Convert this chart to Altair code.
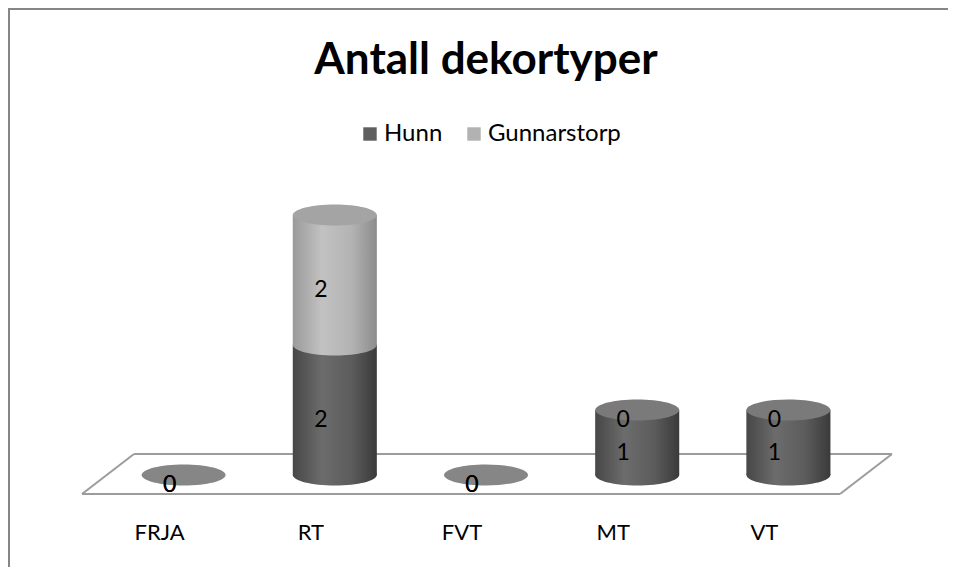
import altair as alt
import pandas as pd

categories = ["FRJA", "RT", "FVT", "MT", "VT"]
hunn = [0, 2, 0, 1, 1]
gunnarstorp = [0, 2, 0, 0, 0]
series = ["Hunn", "Gunnarstorp"]
series_colors = ["#5f5f5f", "#b2b2b2"]

df = pd.DataFrame({"cat": categories, "Hunn": hunn, "Gunnarstorp": gunnarstorp})
df["total"] = df["Hunn"] + df["Gunnarstorp"]
df["hmid"] = df["Hunn"] / 2
df["gmid"] = df["Hunn"] + df["Gunnarstorp"] / 2

FONT = "Lato"
ELLIPSE = "M-1,0A1,0.25,0,1,1,1,0A1,0.25,0,1,1,-1,0Z"
BARW = 84


def grad(stops):
    return alt.Gradient(
        gradient="linear", x1=0, x2=1, y1=0, y2=0,
        stops=[alt.GradientStop(offset=o, color=c) for o, c in stops],
    )


dark = grad([(0, "#474747"), (0.35, "#6c6c6c"), (0.7, "#5c5c5c"), (1, "#3a3a3a")])
light = grad([(0, "#9a9a9a"), (0.35, "#c2c2c2"), (0.7, "#b3b3b3"), (1, "#8c8c8c")])

xenc = alt.X(
    "cat:N", sort=categories, title=None,
    scale=alt.Scale(paddingInner=0.444, paddingOuter=0.222),
    axis=alt.Axis(labelAngle=0, domain=False, ticks=False, grid=False,
                  labelFont=FONT, labelFontSize=22, labelColor="#000000",
                  labelPadding=47, labelOffset=-24),
)
yscale = alt.Scale(domain=[0, 5], nice=False, zero=True)

base = alt.Chart(df)
one = pd.DataFrame({"k": [0]})


def rule(x1, y1, x2, y2, color, width):
    return alt.Chart(one).mark_rule(color=color, strokeWidth=width).encode(
        x=alt.value(x1), y=alt.value(y1), x2=alt.value(x2), y2=alt.value(y2)
    )


floor_c = "#9c9c9c"
floor = [
    rule(-26, 344, 732, 344, floor_c, 2),
    rule(26, 304, 784, 304, floor_c, 2),
    rule(-26, 344, 26, 304, floor_c, 2),
    rule(732, 344, 784, 304, floor_c, 2),
]
border_c = "#868686"
border = [
    rule(-100, -141, 900, -141, border_c, 2),
    rule(-99, -142, -99, 430, border_c, 2),
]


def ellipse(fill):
    return dict(shape=ELLIPSE, filled=True, size=BARW * BARW, fill=fill,
                opacity=1, strokeWidth=0)


hunn_bottom = base.transform_filter("datum.Hunn > 0").transform_calculate(z0="0").mark_point(
    **ellipse(dark)).encode(x=xenc, y=alt.Y("z0:Q", scale=yscale, axis=None))
hunn_bar = base.transform_filter("datum.Hunn > 0").transform_calculate(z0="0").mark_bar(
    fill=dark, opacity=1).encode(x=xenc, y=alt.Y("z0:Q", scale=yscale, axis=None), y2="Hunn:Q")
g_bottom = base.transform_filter("datum.Gunnarstorp > 0").mark_point(**ellipse(light)).encode(
    x=xenc, y=alt.Y("Hunn:Q", scale=yscale, axis=None)
)
g_bar = base.transform_filter("datum.Gunnarstorp > 0").mark_bar(fill=light, opacity=1).encode(
    x=xenc, y=alt.Y("Hunn:Q", scale=yscale, axis=None), y2="total:Q"
)
cap_zero = base.transform_filter("datum.total == 0").mark_point(**ellipse("#868686")).encode(
    x=xenc, y=alt.Y("total:Q", scale=yscale, axis=None)
)
cap_dark = base.transform_filter("datum.total > 0 && datum.Gunnarstorp == 0").mark_point(
    **ellipse("#7a7a7a")).encode(x=xenc, y=alt.Y("total:Q", scale=yscale, axis=None))
cap_light = base.transform_filter("datum.Gunnarstorp > 0").mark_point(
    **ellipse("#a4a4a4")).encode(x=xenc, y=alt.Y("total:Q", scale=yscale, axis=None))

txt = dict(font=FONT, fontSize=23, color="#000000", dx=-14, dy=10, baseline="middle")
hunn_lbl = base.mark_text(**txt).encode(
    x=xenc, y=alt.Y("hmid:Q", scale=yscale, axis=None), text="Hunn:Q")
g_lbl = base.mark_text(**txt).encode(
    x=xenc, y=alt.Y("gmid:Q", scale=yscale, axis=None), text="Gunnarstorp:Q")

legend_layer = base.transform_fold(series, as_=["series", "v"]).transform_calculate(
    zL="0").mark_square(opacity=0, size=10).encode(
    x=xenc,
    y=alt.Y("zL:Q", scale=yscale, axis=None),
    color=alt.Color("series:N", scale=alt.Scale(domain=series, range=series_colors),
                    legend=alt.Legend(title=None, orient="none", legendX=250, legendY=-28,
                                      direction="horizontal", symbolType="square",
                                      symbolSize=180, symbolOpacity=1, symbolStrokeWidth=0,
                                      labelFont=FONT, labelFontSize=24, labelColor="#000000",
                                      columnPadding=19, labelOffset=2, padding=0)),
)

chart = alt.layer(
    *border, *floor, cap_zero, hunn_bottom, hunn_bar, g_bottom, g_bar, cap_dark, cap_light,
    hunn_lbl, g_lbl, legend_layer,
).properties(
    width=756, height=325,
    title=alt.TitleParams("Antall dekortyper", font=FONT, fontSize=44, fontWeight="bold",
                          color="#000000", anchor="middle", offset=-76),
    autosize=alt.AutoSizeParams(type="none"),
    padding={"left": 100, "top": 142, "right": 84, "bottom": 92},
).configure(background="#ffffff", view=alt.ViewConfig(stroke=None))

chart.save("out.html", embed_options={"renderer": "svg", "actions": False})
